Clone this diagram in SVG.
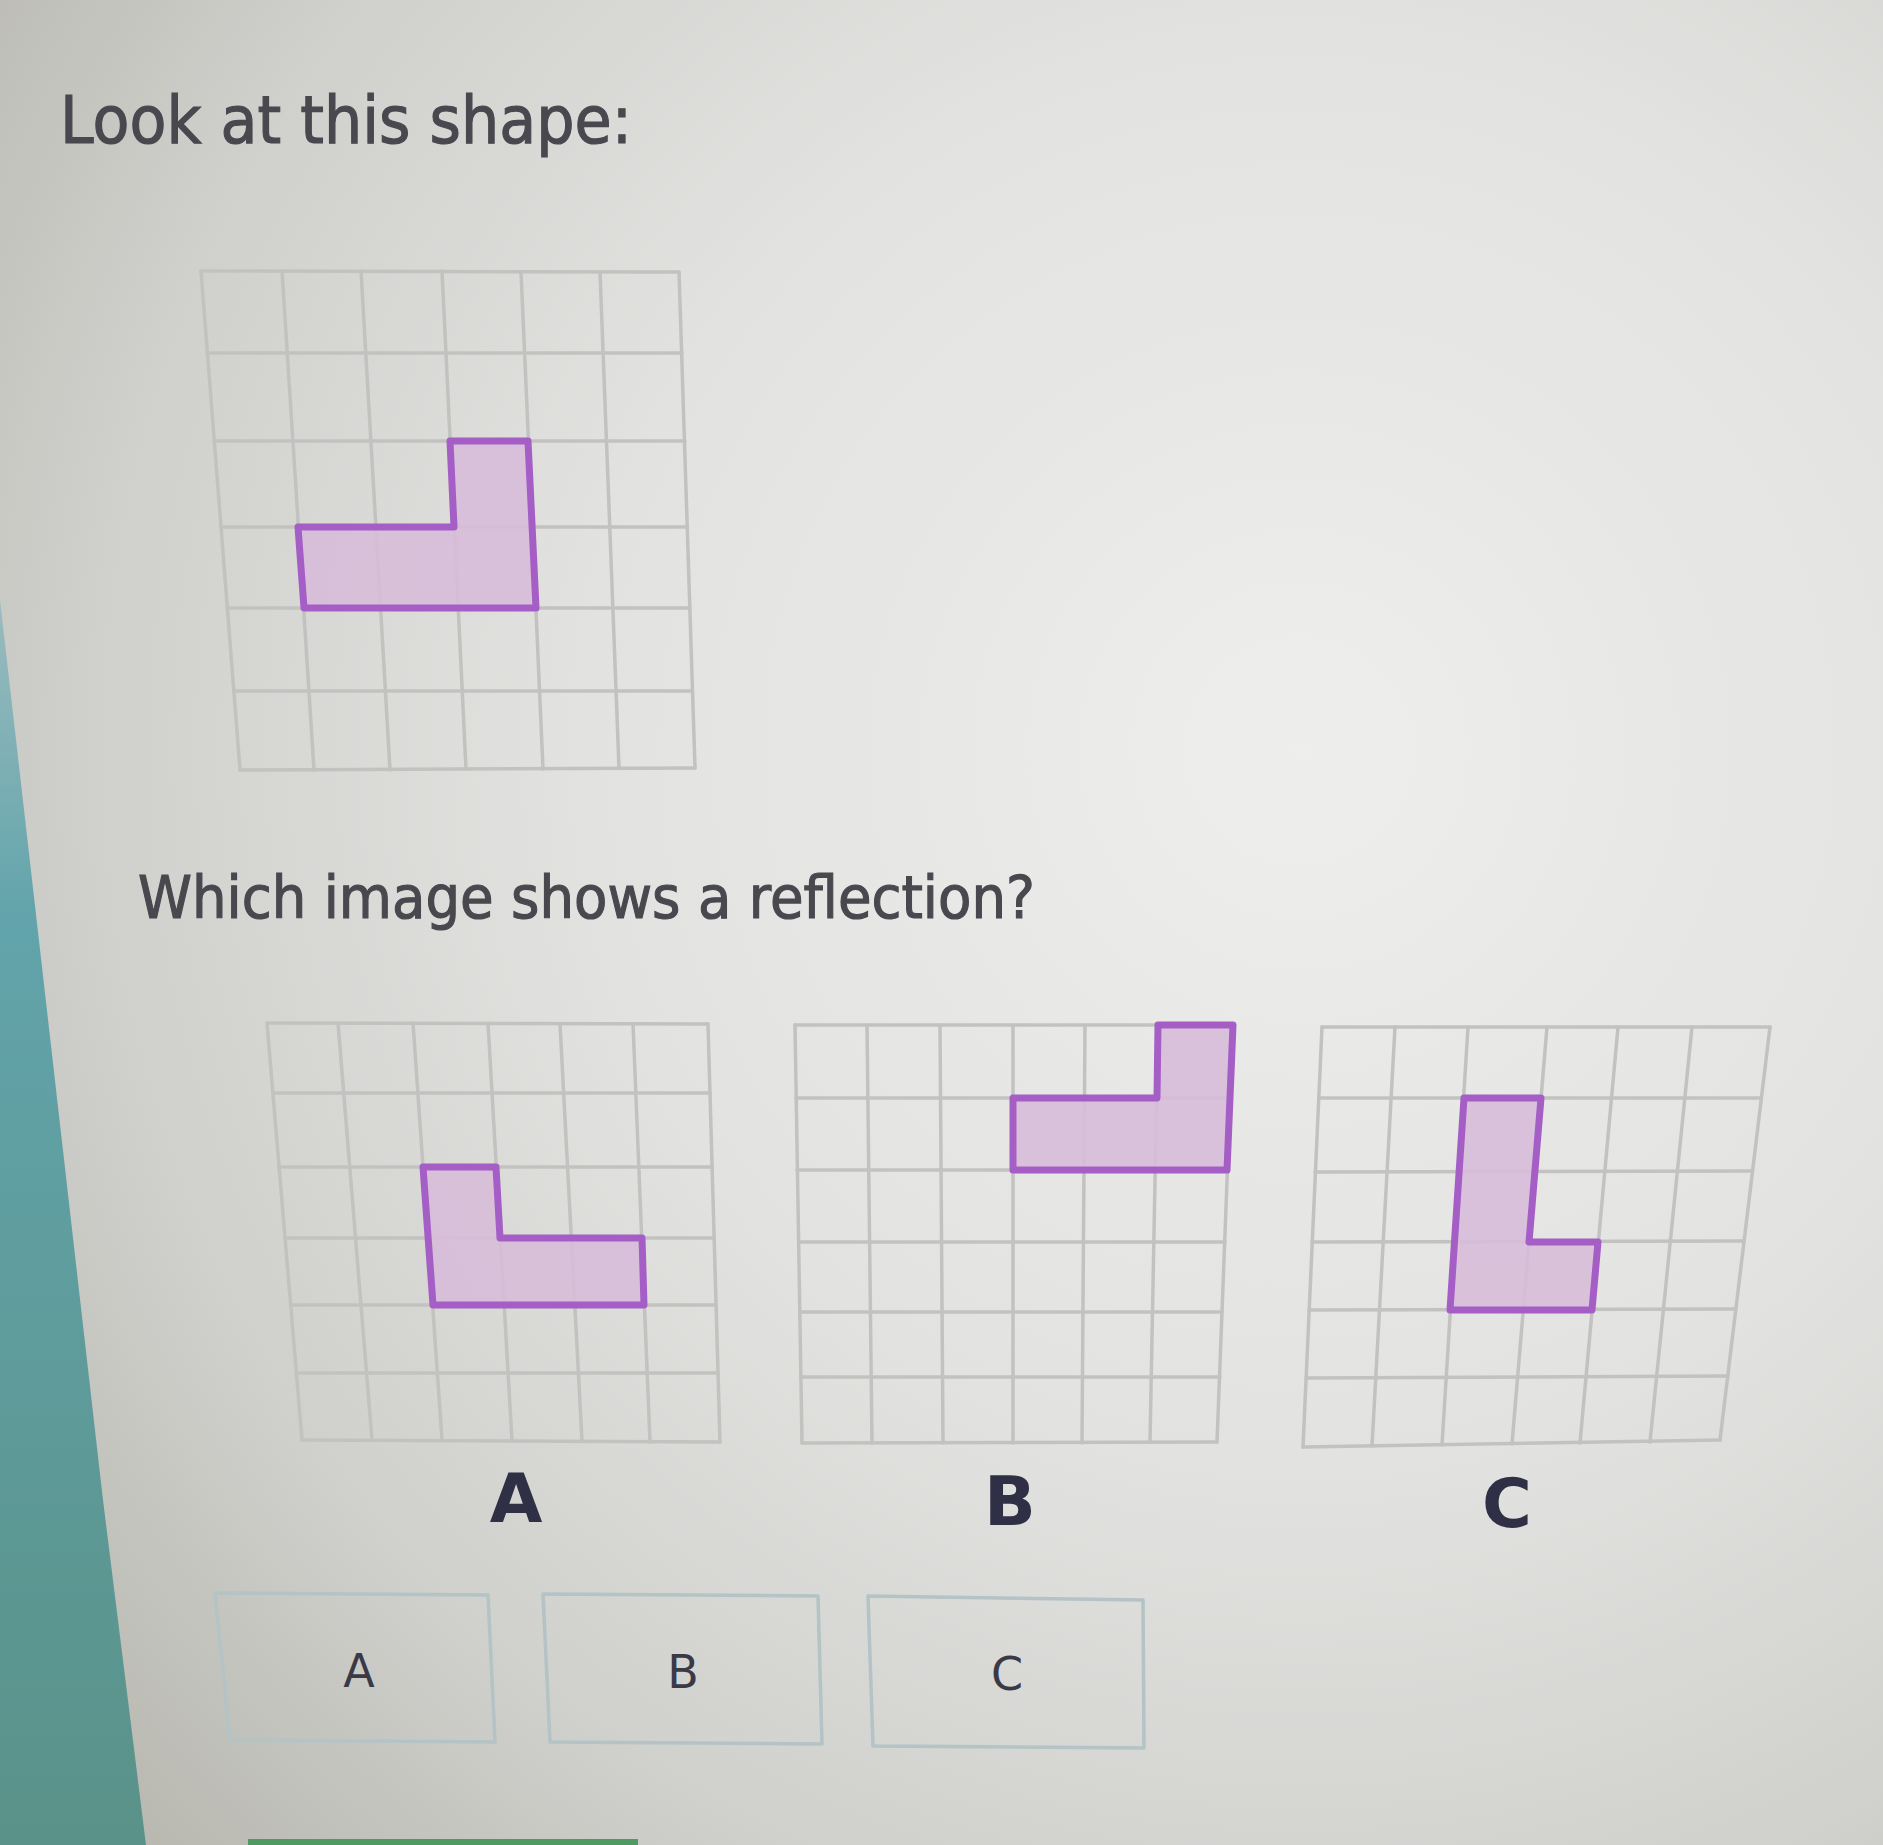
<svg xmlns="http://www.w3.org/2000/svg" width="1883" height="1845" viewBox="0 0 1883 1845">
  <defs>
    <radialGradient id="bg" gradientUnits="userSpaceOnUse" cx="1300" cy="750" r="1600">
      <stop offset="0" stop-color="#eeeeec"/>
      <stop offset="0.45" stop-color="#e2e2e0"/>
      <stop offset="0.75" stop-color="#d0d0cd"/>
      <stop offset="1" stop-color="#b8b8b0"/>
    </radialGradient>
    <linearGradient id="teal" x1="0" y1="600" x2="0" y2="1845" gradientUnits="userSpaceOnUse">
      <stop offset="0" stop-color="#9abcbf"/>
      <stop offset="0.25" stop-color="#62a4ab"/>
      <stop offset="1" stop-color="#5a9289"/>
    </linearGradient>
    <style>
      .grid line { stroke: #c2c2c0; stroke-width: 3.5; stroke-linecap: round; }
      .shape { fill: #d8bcd9; fill-opacity: 0.9; stroke: #a45ec6; stroke-width: 7; stroke-linejoin: round; }
      .title { font-family: "DejaVu Sans", Verdana, sans-serif; fill: #48484e; stroke: #48484e; stroke-width: 1.2; }
      .lab { font-family: "DejaVu Sans", Verdana, sans-serif; font-weight: bold; font-size: 68px; fill: #2f2f46; text-anchor: middle; }
      .btn { fill: none; stroke: #b3c3c6; stroke-width: 3.5; stroke-linejoin: round; }
      .btxt { font-family: "DejaVu Sans", Verdana, sans-serif; font-size: 46px; fill: #3a3a46; text-anchor: middle; }
    </style>
  </defs>

  <rect x="0" y="0" width="1883" height="1845" fill="url(#bg)"/>
  <polygon points="0,600 103,1500 146,1845 0,1845" fill="url(#teal)"/>
  <rect x="248" y="1839" width="390" height="6" fill="#4f9a62"/>

  <text class="title" x="60" y="143" font-size="65" textLength="572" lengthAdjust="spacingAndGlyphs">Look at this shape:</text>
  <text class="title" x="138" y="918" font-size="59" textLength="897" lengthAdjust="spacingAndGlyphs">Which image shows a reflection?</text>

  <g id="original-grid" class="grid">
    <line x1="201" y1="271" x2="240" y2="770"/>
    <line x1="282" y1="271" x2="314" y2="770"/>
    <line x1="361" y1="271" x2="390" y2="770"/>
    <line x1="442" y1="271" x2="466" y2="769"/>
    <line x1="521" y1="272" x2="543" y2="769"/>
    <line x1="600" y1="272" x2="619" y2="768"/>
    <line x1="679" y1="272" x2="695" y2="768"/>
    <line x1="201" y1="271" x2="679" y2="272"/>
    <line x1="207" y1="353" x2="682" y2="353"/>
    <line x1="214" y1="441" x2="685" y2="441"/>
    <line x1="221" y1="527" x2="687" y2="527"/>
    <line x1="227" y1="608" x2="690" y2="608"/>
    <line x1="234" y1="691" x2="692" y2="691"/>
    <line x1="240" y1="770" x2="695" y2="768"/>
    <polygon class="shape" points="450,441 528,441 536,608 304,608 298,527 454,527"/>
  </g>

  <g id="option-a-grid" class="grid">
    <line x1="267" y1="1023" x2="302" y2="1440"/>
    <line x1="338" y1="1023" x2="372" y2="1440"/>
    <line x1="413" y1="1023" x2="442" y2="1440"/>
    <line x1="488" y1="1023" x2="512" y2="1441"/>
    <line x1="560" y1="1024" x2="582" y2="1441"/>
    <line x1="633" y1="1024" x2="650" y2="1442"/>
    <line x1="708" y1="1024" x2="720" y2="1442"/>
    <line x1="267" y1="1023" x2="708" y2="1024"/>
    <line x1="273" y1="1093" x2="710" y2="1093"/>
    <line x1="279" y1="1167" x2="712" y2="1167"/>
    <line x1="285" y1="1238" x2="714" y2="1238"/>
    <line x1="291" y1="1305" x2="716" y2="1305"/>
    <line x1="296" y1="1373" x2="718" y2="1373"/>
    <line x1="302" y1="1440" x2="720" y2="1442"/>
    <polygon class="shape" points="423,1167 496,1167 500,1238 642,1238 644,1305 433,1305"/>
  </g>

  <g id="option-b-grid" class="grid">
    <line x1="795" y1="1025" x2="802" y2="1443"/>
    <line x1="867" y1="1025" x2="872" y2="1443"/>
    <line x1="940" y1="1025" x2="943" y2="1443"/>
    <line x1="1013" y1="1025" x2="1013" y2="1443"/>
    <line x1="1085" y1="1025" x2="1082" y2="1443"/>
    <line x1="1158" y1="1025" x2="1150" y2="1442"/>
    <line x1="1233" y1="1025" x2="1217" y2="1442"/>
    <line x1="795" y1="1025" x2="1233" y2="1025"/>
    <line x1="796" y1="1098" x2="1230" y2="1098"/>
    <line x1="797" y1="1170" x2="1227" y2="1170"/>
    <line x1="799" y1="1242" x2="1225" y2="1242"/>
    <line x1="800" y1="1312" x2="1222" y2="1312"/>
    <line x1="801" y1="1377" x2="1220" y2="1377"/>
    <line x1="802" y1="1443" x2="1217" y2="1442"/>
    <polygon class="shape" points="1158,1025 1233,1025 1227,1170 1013,1170 1013,1098 1157,1098"/>
  </g>

  <g id="option-c-grid" class="grid">
    <line x1="1322" y1="1027" x2="1303" y2="1447"/>
    <line x1="1395" y1="1027" x2="1372" y2="1446"/>
    <line x1="1468" y1="1027" x2="1442" y2="1445"/>
    <line x1="1547" y1="1027" x2="1512" y2="1444"/>
    <line x1="1618" y1="1027" x2="1580" y2="1443"/>
    <line x1="1692" y1="1027" x2="1650" y2="1442"/>
    <line x1="1770" y1="1027" x2="1720" y2="1440"/>
    <line x1="1322" y1="1027" x2="1770" y2="1027"/>
    <line x1="1319" y1="1098" x2="1761" y2="1098"/>
    <line x1="1315" y1="1172" x2="1752" y2="1171"/>
    <line x1="1312" y1="1242" x2="1744" y2="1241"/>
    <line x1="1309" y1="1310" x2="1736" y2="1309"/>
    <line x1="1306" y1="1378" x2="1728" y2="1376"/>
    <line x1="1303" y1="1447" x2="1720" y2="1440"/>
    <polygon class="shape" points="1464,1098 1541,1098 1529,1242 1598,1242 1592,1310 1450,1310"/>
  </g>

  <g id="labels">
    <text class="lab" x="516" y="1522">A</text>
    <text class="lab" x="1010" y="1525">B</text>
    <text class="lab" x="1507" y="1527">C</text>
  </g>

  <g id="button-a">
    <polygon class="btn" points="215,1593 488,1595 495,1742 230,1740"/>
    <text class="btxt" x="359" y="1687">A</text>
  </g>
  <g id="button-b">
    <polygon class="btn" points="543,1594 818,1596 822,1744 550,1742"/>
    <text class="btxt" x="683" y="1688">B</text>
  </g>
  <g id="button-c">
    <polygon class="btn" points="868,1596 1143,1600 1144,1748 873,1746"/>
    <text class="btxt" x="1007" y="1690">C</text>
  </g>
</svg>
